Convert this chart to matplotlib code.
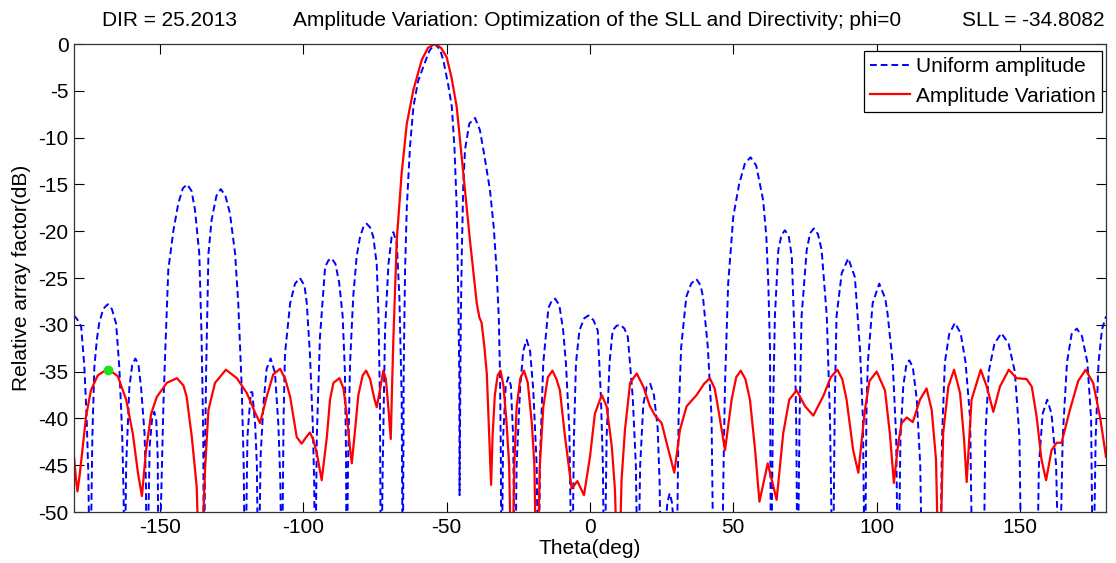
import matplotlib
matplotlib.use('Agg')
import matplotlib.pyplot as plt
import numpy as np

# (theta deg, relative array factor dB); -60 = null below the axis
uniform_pts = [
    (-180, -29.0), (-178.7, -29.5), (-177.5, -30.2), (-176.4, -34.4), (-175.6, -39.8), (-175, -46), (-174.4, -60),
    (-173.6, -42), (-172.9, -34.5), (-172, -31.5), (-171.2, -29.8), (-169.8, -28.3), (-168.2, -27.8), (-166.8, -28.3),
    (-165.3, -29.9), (-164.2, -34.5), (-163.2, -41.6), (-162.7, -48), (-162.4, -60),
    (-161.8, -45), (-160.7, -36.7), (-159.7, -34.3), (-158.6, -33.6), (-157.5, -34.3), (-156.6, -36.7), (-155.4, -41.6),
    (-154.9, -47), (-154.6, -60),
    (-153.6, -43), (-152.7, -39.8), (-152.0, -39.3), (-151.3, -40.2), (-150.8, -44), (-150.5, -60),
    (-149.3, -45), (-148.8, -38.4), (-148.2, -33.1), (-147.1, -24.1), (-145.3, -19.9), (-143.6, -17.0), (-142, -15.4),
    (-140.5, -15.0), (-139, -15.7), (-137.8, -17.7), (-136.3, -22.4), (-135.5, -31.3), (-134.9, -42.0), (-134.7, -60),
    (-134.2, -42), (-133.9, -34.8), (-133.1, -22.4), (-132.0, -18.8), (-130.3, -16.2), (-128.8, -15.5), (-127.2, -16.2),
    (-125.6, -18.1), (-123.8, -22.4), (-122.7, -27.7), (-121.5, -36.6), (-120.8, -45), (-120.3, -60),
    (-119.5, -42), (-119.2, -40.7), (-118.3, -37.2), (-117.8, -37.2), (-116.8, -40.7), (-116.2, -45), (-115.7, -60),
    (-114.9, -44), (-113.9, -38.4), (-112.8, -34.7), (-111.4, -33.6), (-109.9, -35.1), (-108.7, -40.7), (-108, -47), (-107.5, -60),
    (-106.9, -40), (-106.4, -33.1), (-104.6, -27.7), (-102.9, -25.6), (-101.2, -25.0), (-99.6, -25.8), (-98.8, -27.7),
    (-97.7, -33.1), (-96.7, -40.7), (-96.2, -47), (-95.9, -60),
    (-95.3, -42), (-94.2, -31.3), (-92.4, -23.8), (-91.2, -23.1), (-90.1, -22.9), (-88.8, -23.5), (-87.5, -25.5),
    (-86.3, -29), (-85.5, -35), (-85.1, -44), (-84.9, -60),
    (-84.4, -45), (-83.7, -34.1), (-82.6, -27), (-81.4, -22.7), (-80.2, -20.6), (-79, -19.5), (-77.9, -19.2), (-76.7, -19.6),
    (-75.6, -20.6), (-74.4, -23.5), (-73.8, -28.8), (-73.3, -37.7), (-72.9, -60),
    (-72.3, -45), (-71.5, -30.6), (-70.3, -23.5), (-69.2, -20.6), (-68.6, -20.1), (-67.4, -21.3), (-66.5, -27),
    (-65.7, -37.7), (-65.3, -60),
    (-65.0, -35), (-64.5, -24), (-63.9, -17.4), (-62.8, -11), (-61.6, -6.7), (-60, -4), (-58.1, -2.4), (-56, -0.7),
    (-54.1, 0), (-52.3, -0.6), (-51.2, -1.7), (-49.5, -4.3), (-48.2, -6.7), (-47.3, -11), (-46.5, -17.4), (-46, -26),
    (-45.6, -35.2), (-45.5, -48.2),
    (-45.1, -30), (-44.7, -22), (-44.2, -15), (-43.6, -11.3), (-42.1, -8.5), (-40.1, -7.9), (-38.4, -9.2), (-36.8, -12),
    (-34.9, -15.6), (-33.6, -19.5), (-32.5, -24.5), (-31.8, -29.5), (-31.4, -35.2), (-31.1, -44), (-30.9, -60),
    (-30.3, -42), (-29.4, -36.5), (-28.5, -35.6), (-27.6, -36.5), (-26.8, -42), (-26.2, -60),
    (-25.6, -45), (-24.4, -36.9), (-23.3, -32.8), (-22.1, -31.6), (-20.9, -32.8), (-19.8, -36.9), (-18.6, -45), (-18.0, -60),
    (-17.4, -44), (-16.3, -34.1), (-14.5, -28.2), (-13.3, -27.4), (-12.2, -27.2), (-10.7, -27.9), (-9.4, -30.5),
    (-8.4, -34.1), (-7.2, -41.3), (-6.3, -60),
    (-5.6, -42), (-4.9, -34.1), (-3.7, -30.6), (-2, -29.3), (-0.5, -29.0), (1.2, -29.5), (2.7, -30.6), (3.8, -37.7),
    (4.5, -45), (5.0, -60),
    (5.8, -42), (6.8, -34.1), (7.9, -30.6), (9.3, -30.1), (10.6, -30.0), (12, -30.4), (13.2, -31.3), (14.9, -37.7),
    (16, -45), (16.7, -60),
    (17.5, -45), (18.6, -38.5), (19.8, -36.6), (21.0, -36.3), (22.3, -37.5), (23.6, -41), (24.3, -47), (24.8, -60),
    (26.2, -52), (27.0, -49), (27.8, -48.0), (28.6, -49), (29.4, -52), (30.1, -60),
    (30.9, -40), (31.8, -32.4), (33.6, -27), (35.3, -25.6), (37.1, -25.1), (38.6, -25.8), (39.4, -27), (41.1, -32.4),
    (42.4, -39.8), (43.2, -60),
    (44.5, -56), (45.9, -60),
    (46.6, -45), (47.1, -36.3), (48.2, -25.6), (50.0, -18.4), (52, -15), (54, -12.8), (56.0, -12.1), (58, -13),
    (60.4, -16.7), (61.5, -20.5), (62.2, -25.6), (62.8, -32.7), (63.1, -60),
    (63.8, -40), (64.5, -29.1), (65.7, -22.0), (66.8, -20.4), (68.0, -19.9), (69.3, -20.5), (70.4, -22.7), (71.5, -32.7),
    (72.0, -42), (72.4, -60),
    (73.1, -40), (73.8, -29.1), (75.6, -22.0), (76.8, -20.2), (78.1, -19.7), (79.5, -20.3), (80.8, -22.0), (82.6, -29.1),
    (83.7, -39.8), (84.7, -60),
    (85.4, -38), (86.0, -29.1), (87.8, -24.5), (90.1, -22.9), (92.4, -24.9), (94.2, -32.7), (95.2, -40), (95.9, -60),
    (96.4, -40), (96.9, -34.1), (98.6, -27.7), (100.9, -25.6), (103.0, -27.2), (103.8, -28.8), (105.6, -34.1),
    (106.8, -42), (107.5, -60),
    (108.3, -42), (109.3, -36.5), (110.4, -34.2), (111.4, -33.8), (112.6, -34.5), (114.0, -38), (115.2, -45), (116.0, -60),
    (119, -57), (122.1, -60),
    (122.8, -42), (123.8, -34), (125.3, -31), (127.3, -29.8), (129.3, -30.9), (131, -34), (132.6, -40), (133.5, -60),
    (135.3, -57), (137.2, -60),
    (137.9, -42), (139.1, -35), (141.1, -32), (143.5, -30.9), (146.0, -32), (148.2, -35), (149.8, -42), (150.6, -60),
    (153.2, -57), (155.8, -60),
    (156.6, -45), (157.9, -39.5), (159.5, -38.0), (161, -39.5), (162.6, -45), (163.7, -60),
    (164.9, -42), (166.4, -34), (168, -31), (169.8, -30.4), (171.6, -31.2), (173.5, -34), (174.8, -40), (175.5, -60),
    (176.4, -42), (177.4, -34), (178.6, -30.5), (180, -29.1),
]

variation_pts = [
    (-180, -44.1), (-179.3, -46.5), (-178.8, -47.8), (-178, -46), (-177.1, -43.5), (-175.8, -39.8), (-174.1, -37.0),
    (-171.7, -35.4), (-168.2, -34.7), (-164.7, -35.5), (-161.8, -38.0), (-159.5, -41.6), (-157.7, -45.8), (-156.3, -48.3),
    (-154.9, -43.5), (-153.1, -39.5), (-151.1, -37.7), (-147.6, -36.2), (-144.1, -35.7), (-141.8, -36.5), (-140.7, -37.7),
    (-138.9, -42.0), (-137.2, -47.3), (-136.0, -60),
    (-134.3, -45.5), (-133.1, -39.1), (-130.8, -36.2), (-127.0, -34.8), (-123.2, -35.7), (-119.7, -37.3), (-116.8, -39.4),
    (-115.1, -40.5), (-112.8, -37.7), (-110.5, -35.3), (-108.1, -34.7), (-106.3, -35.8), (-104.6, -37.7), (-102.3, -42.0),
    (-100.6, -42.7), (-99, -42), (-97.7, -41.5), (-96.5, -42.3), (-95.3, -43.7), (-93.6, -46.6), (-91.8, -42.0),
    (-90.7, -38.0), (-89.5, -36.2), (-87.4, -35.7), (-86, -36.8), (-84.9, -39.5), (-83.6, -43.5), (-83.1, -44.8),
    (-82.2, -42), (-80.8, -37.5), (-79.3, -35.4), (-78.1, -34.9), (-76.7, -35.8), (-75.3, -37.8), (-74.4, -38.8),
    (-73.3, -37), (-72.1, -34.9), (-71.2, -35.8), (-70.3, -39), (-69.5, -42.2), (-69, -36), (-68.6, -31.6),
    (-67.4, -20.9), (-65.7, -13.8), (-63.9, -8.5), (-61.6, -4.9), (-58.7, -1.7), (-56.5, -0.4), (-54.1, 0), (-52, -0.4),
    (-50, -1.4), (-48.3, -3.6), (-46.5, -6.7), (-44.2, -13.8), (-41.9, -20.9), (-39.5, -27.7), (-38.6, -29.2),
    (-37.8, -29.8), (-36.8, -32.5), (-36.0, -35.2), (-35.1, -42.3), (-34.5, -47.1), (-34.0, -42), (-33.2, -37.5),
    (-32.2, -35.4), (-31.2, -34.9), (-30.2, -36.5), (-29.1, -40.5), (-28.2, -45), (-27.3, -60),
    (-26.4, -45), (-25.6, -38.8), (-24.3, -35.7), (-23.0, -34.9), (-21.7, -36.2), (-20.3, -40.5), (-19.4, -45), (-18.6, -60),
    (-17.5, -45), (-16.3, -38.8), (-14.7, -35.6), (-13.1, -34.9), (-11.7, -35.8), (-10.5, -37), (-8.7, -42),
    (-6.4, -47.5), (-4.4, -46.7), (-2.1, -48.2), (0, -44.1), (1.7, -39.5), (4.1, -37.5), (5.8, -38.7), (7.6, -43),
    (8.7, -47.6), (9.9, -60),
    (11.0, -46.6), (12.2, -41.2), (14.0, -36.2), (16.3, -35.2), (18.6, -36.6), (20.9, -38.7), (22.7, -39.7),
    (25.0, -40.5), (26.8, -42.7), (29.4, -45.8), (31.4, -41.2), (33.7, -38.7), (37.2, -37.5), (39.8, -36.3),
    (41.8, -35.7), (43.5, -36.8), (44.8, -39.1), (47.1, -43.4), (49.4, -38.0), (51, -35.6), (52.6, -34.9),
    (54.2, -35.8), (55.8, -38.0), (57.6, -43.4), (59.1, -48.9), (62.0, -44.8), (65.1, -48.7), (67.4, -41.6),
    (69.5, -38), (72.1, -37.0), (75.0, -38.7), (77.9, -39.7), (81.4, -37.6), (84, -35.6), (86.3, -34.8), (88, -35.8),
    (89.5, -38.0), (91.8, -43.4), (93.6, -45.8), (95.9, -39.1), (97.5, -36), (100.0, -35.0), (102.9, -37.0),
    (104.6, -41.6), (106.0, -46.9), (107.5, -42.7), (108.7, -40.5), (110.5, -39.9), (112.6, -40.4), (115.1, -38.0),
    (117.4, -36.8), (119.2, -39.1), (120.7, -44.4), (121.8, -60),
    (123.2, -41.6), (125.0, -36.6), (127.0, -34.8), (129.1, -37.3), (130.5, -42.3), (131.4, -46.8), (133.1, -38.0),
    (136.3, -34.8), (138.4, -36.6), (140.7, -39.3), (143.0, -36.6), (146.1, -34.8), (148.8, -35.7), (152.3, -35.8),
    (154.1, -36.6), (155.8, -39.8), (157.5, -44.4), (159.1, -46.6), (161.0, -43.4), (162.8, -42.6), (164.5, -42.6),
    (167.4, -39.1), (170.3, -36.0), (172.9, -34.8), (175.5, -36.2), (177.9, -39.8), (180, -44.1),
]

sll_point = (-168.2, -34.8)
dir_value = 25.2013
sll_value = -34.8082

theta_u, db_u = np.array(uniform_pts).T
theta_v, db_v = np.array(variation_pts).T

plt.rcParams['font.family'] = ['Liberation Sans', 'DejaVu Sans']
plt.rcParams['axes.unicode_minus'] = False
fs = 15

W, H = 1116, 563
fig = plt.figure(figsize=(W / 100, H / 100), dpi=100)
ax = fig.add_axes([74 / W, 1 - 512 / H, (1106 - 74) / W, (512 - 44) / H])

ax.plot(theta_u, db_u, color='blue', lw=1.4, linestyle=(0, (3.5, 2)), label='Uniform amplitude')
ax.plot(theta_v, db_v, color='red', lw=1.6, label='Amplitude Variation')
ax.plot(*sll_point, 'o', color='#1fe01f', markersize=6, zorder=5)

ax.set_xlim(-180, 180)
ax.set_ylim(-50, 0)
ax.set_xticks(np.arange(-150, 151, 50))
ax.set_yticks(np.arange(-50, 1, 5))
ax.tick_params(direction='in', length=7, width=0.8, top=True, right=True, labelsize=fs, pad=4)
for s in ax.spines.values():
    s.set_linewidth(0.9)
    s.set_color('#333333')

leg = ax.legend(loc='upper right', bbox_to_anchor=(1 - 4 / 1032, 1 - 7 / 468), fontsize=fs,
                frameon=True, fancybox=False, framealpha=1, edgecolor='black',
                handlelength=1.9, handletextpad=0.3, borderpad=0.3, labelspacing=0.5, borderaxespad=0)
leg.get_frame().set_linewidth(0.9)

fig.text(170 / W, 1 - 20 / H, f'DIR = {dir_value}', ha='center', va='center', fontsize=fs)
fig.text(597 / W, 1 - 20 / H, 'Amplitude Variation: Optimization of the SLL and Directivity; phi=0',
         ha='center', va='center', fontsize=fs)
fig.text(1033 / W, 1 - 20 / H, f'SLL = {sll_value}', ha='center', va='center', fontsize=fs)
fig.text(590 / W, 1 - 549 / H, 'Theta(deg)', ha='center', va='center', fontsize=fs)
fig.text(22 / W, 1 - 278 / H, 'Relative array factor(dB)', ha='center', va='center', rotation=90, fontsize=fs)

fig.savefig('out.png', dpi=100)
